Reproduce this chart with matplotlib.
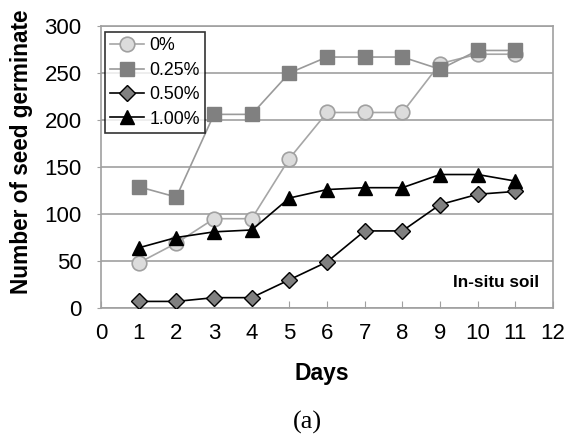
import matplotlib
matplotlib.use("Agg")
import matplotlib.pyplot as plt

# --- data ---
days = [1, 2, 3, 4, 5, 6, 7, 8, 9, 10, 11]
s_0 = [48, 69, 95, 95, 159, 208, 208, 208, 260, 270, 270]
s_025 = [129, 118, 206, 206, 250, 267, 267, 267, 254, 274, 274]
s_050 = [7, 7, 11, 11, 30, 49, 82, 82, 110, 121, 124]
s_100 = [64, 75, 81, 83, 117, 126, 128, 128, 142, 142, 135]
labels = ["0%", "0.25%", "0.50%", "1.00%"]
x_ticks = list(range(0, 13))
y_ticks = [0, 50, 100, 150, 200, 250, 300]

plt.rcParams['font.family'] = ['Liberation Sans', 'DejaVu Sans']

fig = plt.figure(figsize=(5.69, 4.41), dpi=100)
ax = fig.add_axes([0.1775, 0.3016, 0.7945, 0.6394])

ax.plot(days, s_0, color='#a6a6a6', lw=1.2, marker='o', ms=10.5,
        mfc='#dcdcdc', mec='#a0a0a0', mew=1.2, label=labels[0], zorder=3)
ax.plot(days, s_025, color='#9a9a9a', lw=1.2, marker='s', ms=10,
        mfc='#808080', mec='#808080', label=labels[1], zorder=3)
ax.plot(days, s_050, color='black', lw=1.2, marker='D', ms=8,
        mfc='#808080', mec='black', mew=1.0, label=labels[2], zorder=4)
ax.plot(days, s_100, color='black', lw=1.2, marker='^', ms=10.5,
        mfc='black', mec='black', label=labels[3], zorder=4)

ax.set_xlim(0, 12)
ax.set_ylim(0, 300)
ax.set_xticks(x_ticks)
ax.set_yticks(y_ticks)
ax.tick_params(axis='x', direction='in', length=5, color='#a0a0a0',
               labelsize=16, pad=11)
ax.tick_params(axis='y', direction='out', length=3, color='#a0a0a0',
               labelsize=16, pad=11)
ax.yaxis.grid(True, color='#a0a0a0', lw=1.2)
ax.set_axisbelow(True)
for sp in ax.spines.values():
    sp.set_color('#a0a0a0')
    sp.set_linewidth(1.2)

ax.set_xlabel('Days', fontsize=16.5, fontweight='bold')
ax.set_ylabel('Number of seed germinate', fontsize=16.3, fontweight='bold')
ax.xaxis.set_label_coords(0.489, -0.19)
ax.yaxis.set_label_coords(-0.15, 0.555)

ax.text(0.97, 0.09, 'In-situ soil', transform=ax.transAxes, ha='right',
        va='center', fontsize=12.3, fontweight='bold')

leg = ax.legend(loc='upper left', bbox_to_anchor=(0.009, 0.979), fontsize=12.8,
                frameon=True, fancybox=False, edgecolor='black',
                borderpad=0.3, labelspacing=0.42, handlelength=1.9,
                handletextpad=0.3, borderaxespad=0)
leg.get_frame().set_linewidth(1.2)

fig.text(0.54, 0.043, '(a)', ha='center', va='center', fontsize=19,
         family=['Liberation Serif', 'DejaVu Serif'])

fig.savefig('out.png', dpi=100)
